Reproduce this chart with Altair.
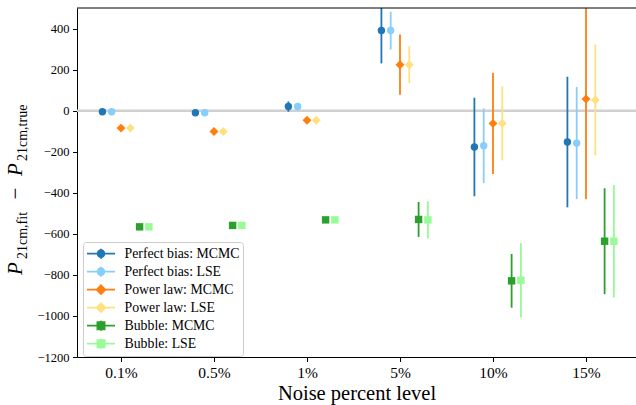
import json
import altair as alt
import pandas as pd

# ---------------- data ----------------
NOISE_LABELS = ["0.1%", "0.5%", "1%", "5%", "10%", "15%"]
SERIES = ["Perfect bias: MCMC", "Perfect bias: LSE", "Power law: MCMC",
          "Power law: LSE", "Bubble: MCMC", "Bubble: LSE"]

perfect_mcmc = [-5, -10, 20, 390, -177, -153]
perfect_mcmc_err = [7, 7, 25, 160, 240, 318]
perfect_lse = [-5, -10, 20, 390, -171, -158]
perfect_lse_err = [4, 4, 6, 92, 182, 273]
power_mcmc = [-85, -102, -47, 224, -62, 57]
power_mcmc_err = [7, 7, 8, 147, 247, 488]
power_lse = [-85, -102, -47, 224, -62, 52]
power_lse_err = [4, 4, 5, 90, 180, 270]
bubble_mcmc = [-566, -559, -532, -530, -829, -636]
bubble_mcmc_err = [7, 7, 8, 85, 131, 258]
bubble_lse = [-566, -559, -532, -532, -826, -636]
bubble_lse_err = [4, 4, 5, 91, 181, 274]

# ---------------- styles ----------------
COLORS = ["#1f77b4", "#87cefa", "#ff7f0e", "#ffe07f", "#2ca02c", "#98fb98"]
LINE = "M-2.15,0H2.15M0,-0.77V0.77 "
CIRCLE = "M0.52,0A0.52,0.52,0,1,1,-0.52,0A0.52,0.52,0,1,1,0.52,0Z"
DIAMOND = "M0,-0.66L0.66,0L0,0.66L-0.66,0Z"
SQUARE = "M-0.55,-0.55H0.55V0.55H-0.55Z"
LEGEND_PATHS = [LINE + CIRCLE] * 2 + [LINE + DIAMOND] * 2 + [LINE + SQUARE] * 2
FONT = "Liberation Serif"

vals = [perfect_mcmc, perfect_lse, power_mcmc, power_lse, bubble_mcmc, bubble_lse]
errs = [perfect_mcmc_err, perfect_lse_err, power_mcmc_err, power_lse_err,
        bubble_mcmc_err, bubble_lse_err]
rows = []
for name, vs, es in zip(SERIES, vals, errs):
    for i, (v, e) in enumerate(zip(vs, es)):
        rows.append({"series": name, "model": name.split(":")[0], "idx": i,
                     "value": v, "lo": v - e, "hi": v + e})
df = pd.DataFrame(rows)

W, H = 559, 349
X0, X1 = -0.4731, 5.5376

x_axis = alt.Axis(values=list(range(6)), title="Noise percent level",
                  labelExpr=f"{json.dumps(NOISE_LABELS)}[datum.value]",
                  labelFont=FONT, labelFontSize=15.5, labelBaseline="alphabetic",
                  labelPadding=16, titleFont=FONT, titleFontSize=20.5,
                  titleY=42.5, titleBaseline="alphabetic", titleFontWeight="normal")
y_axis = alt.Axis(values=list(range(-1200, 401, 200)), title=None,
                  labelExpr="replace(format(datum.value, 'd'), '-', '\u2212')",
                  labelFont=FONT, labelFontSize=12.5, labelPadding=3.5)
xs = alt.Scale(domain=[X0, X1], nice=False, zero=False)
ys = alt.Scale(domain=[-1200, 500], nice=False, zero=False)
X = alt.X("x:Q", scale=xs, axis=x_axis)
color = alt.Color("series:N", scale=alt.Scale(domain=SERIES, range=COLORS), legend=None)

base = alt.Chart(df).transform_calculate(
    x=f"datum.idx + (indexof({json.dumps(SERIES)}, datum.series) - 2) * 0.1"
)

zero_line = alt.Chart(pd.DataFrame({"y": [0]})).mark_rule(
    color="#d0d0d0", strokeWidth=2.5
).encode(y=alt.Y("y:Q", scale=ys, axis=y_axis))

bars = base.mark_rule(strokeWidth=1.8, clip=True).encode(
    x=X, y=alt.Y("lo:Q", scale=ys, axis=y_axis), y2="hi:Q", color=color
)

def points(model, shape, size):
    return base.transform_filter(alt.datum.model == model).mark_point(
        filled=True, opacity=1, shape=shape, size=size, clip=True
    ).encode(x=X, y=alt.Y("value:Q", scale=ys, axis=y_axis), color=color)

pts_perfect = points("Perfect bias", "circle", 55)
pts_power = points("Power law", "diamond", 80)
pts_bubble = points("Bubble", "square", 55)

leg = alt.Legend(title=None, orient="none", legendX=6, legendY=234,
                 labelFont=FONT, labelFontSize=13.8, labelColor="black",
                 rowPadding=0, clipHeight=17.3, symbolSize=169, symbolStrokeWidth=1.8,
                 symbolOffset=7.5, labelOffset=16, symbolOpacity=1, padding=3,
                 fillColor="rgba(255,255,255,0.8)", strokeColor="#cccccc",
                 cornerRadius=3)
legend_layer = base.transform_filter("false").mark_point(
    filled=True, opacity=1, size=169, strokeWidth=1.8, clip=True
).encode(
    x=X, y=alt.Y("value:Q", scale=ys, axis=y_axis),
    fill=alt.Fill("series:N", scale=alt.Scale(domain=SERIES, range=COLORS), legend=leg),
    stroke=alt.Stroke("series:N", scale=alt.Scale(domain=SERIES, range=COLORS), legend=leg),
    shape=alt.Shape("series:N", scale=alt.Scale(domain=SERIES, range=LEGEND_PATHS), legend=leg),
)

one = pd.DataFrame({"a": [0]})
top_frame = alt.Chart(one).mark_rule(color="black", strokeWidth=1).encode(
    x=alt.value(0), x2=alt.value(W), y=alt.value(0)
)

def title_piece(text, x, y, size, italic=False, align="left"):
    kw = dict(font=FONT, fontSize=size, angle=270, align=align,
              baseline="alphabetic", color="black")
    if italic:
        kw["fontStyle"] = "italic"
    return alt.Chart(one).mark_text(**kw).encode(
        x=alt.value(x), y=alt.value(y), text=alt.value(text)
    )

ytitle = [
    title_piece("P", -55, 267, 21, italic=True),
    title_piece("21cm,fit", -50, 251, 14),
    title_piece("\u2212", -55, 185.5, 21, align="center"),
    title_piece("P", -55, 168, 21, italic=True),
    title_piece("21cm,true", -50, 153, 14),
]

chart = alt.layer(
    zero_line, bars, pts_perfect, pts_power, pts_bubble, legend_layer, top_frame, *ytitle
).resolve_scale(
    color="independent", fill="independent", stroke="independent", shape="independent"
).properties(
    width=W, height=H,
    padding={"left": 77, "top": 8, "right": 0, "bottom": 48},
    autosize=alt.AutoSizeParams(type="none"),
).configure(font=FONT).configure_view(stroke=None).configure_axis(
    grid=False, domainColor="black", domainWidth=1, tickColor="black",
    tickSize=4.5, tickWidth=1, labelFont=FONT, labelColor="black",
    titleFont=FONT, titleColor="black", titleFontWeight="normal",
).configure_legend(
    labelFont=FONT,
)

chart.save("out.html", embed_options={"renderer": "svg", "actions": False})
